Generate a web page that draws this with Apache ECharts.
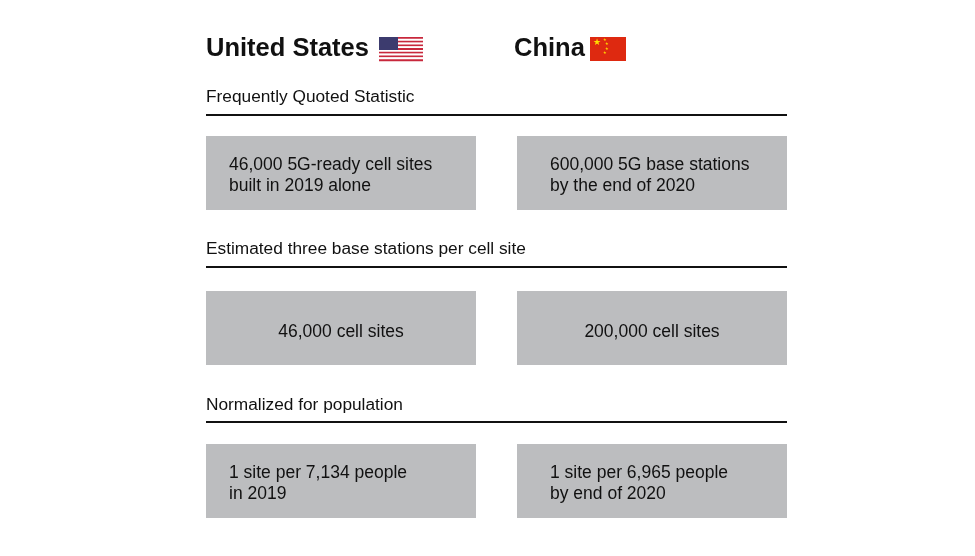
<!DOCTYPE html>
<html><head><meta charset="utf-8">
<script src="https://cdn.jsdelivr.net/npm/echarts@6/dist/echarts.min.js"></script>
<style>html,body{margin:0;background:#fff}#c{width:975px;height:556px}</style>
</head><body><div id="c"></div>
<script>
const countries = ["United States", "China"];
const sections = ["Frequently Quoted Statistic", "Estimated three base stations per cell site", "Normalized for population"];
const usTexts = ["46,000 5G-ready cell sites\nbuilt in 2019 alone", "46,000 cell sites", "1 site per 7,134 people\nin 2019"];
const cnTexts = ["600,000 5G base stations\nby the end of 2020", "200,000 cell sites", "1 site per 6,965 people\nby end of 2020"];
const centered = [false, true, false];

const chart = echarts.init(document.getElementById('c'));
const F = 'Liberation Sans, Arial, sans-serif';
const g = [];
g.push({type:'text', left:206, top:36, style:{text:countries[0], font:'bold 25.5px '+F, fill:'#111'}});
g.push({type:'text', left:514, top:36, style:{text:countries[1], font:'bold 25.5px '+F, fill:'#111'}});
const fx=379, fy=37, fw=44, fh=24;
for(let i=0;i<13;i++){
  g.push({type:'rect', shape:{x:fx, y:fy+i*fh/13, width:fw, height:fh/13+0.2}, style:{fill:i%2?'#fff':'#c8283c'}});
}
g.push({type:'rect', shape:{x:fx,y:fy,width:19,height:13}, style:{fill:'#3c3b6e'}});
g.push({type:'rect', shape:{x:590,y:37,width:36,height:24}, style:{fill:'#de2910'}});
g.push({type:'text', left:593, top:38, style:{text:'★', font:'9px DejaVu Sans', fill:'#ffde00'}});
[[603,38],[605,42],[605,47],[603,51]].forEach(p=>g.push({type:'text', left:p[0], top:p[1], style:{text:'★', font:'4px DejaVu Sans', fill:'#ffde00'}}));
const headY=[96,248,404], lineY=[115,267,422], boxY=[136,291,444];
sections.forEach((s,i)=>{
  g.push({type:'text', left:206, top:headY[i]-7, style:{text:s, font:'17.3px '+F, fill:'#111'}});
  g.push({type:'line', shape:{x1:206,y1:lineY[i],x2:787,y2:lineY[i]}, style:{stroke:'#111', lineWidth:2}});
  [[206,usTexts[i]],[517,cnTexts[i]]].forEach(([x,t])=>{
    g.push({type:'rect', shape:{x:x,y:boxY[i],width:270,height:74}, style:{fill:'#bcbdbf'}});
    if(centered[i]) g.push({type:'text', x:x+135, y:boxY[i]+41, style:{text:t, font:'17.5px '+F, fill:'#111', align:'center', verticalAlign:'middle'}});
    else g.push({type:'text', x:x+(x===206?23:33), y:boxY[i]+40, style:{text:t, font:'17.5px '+F, fill:'#111', lineHeight:21, align:'left', verticalAlign:'middle'}});
  });
});
chart.setOption({animation:false, graphic:g});
</script></body></html>
